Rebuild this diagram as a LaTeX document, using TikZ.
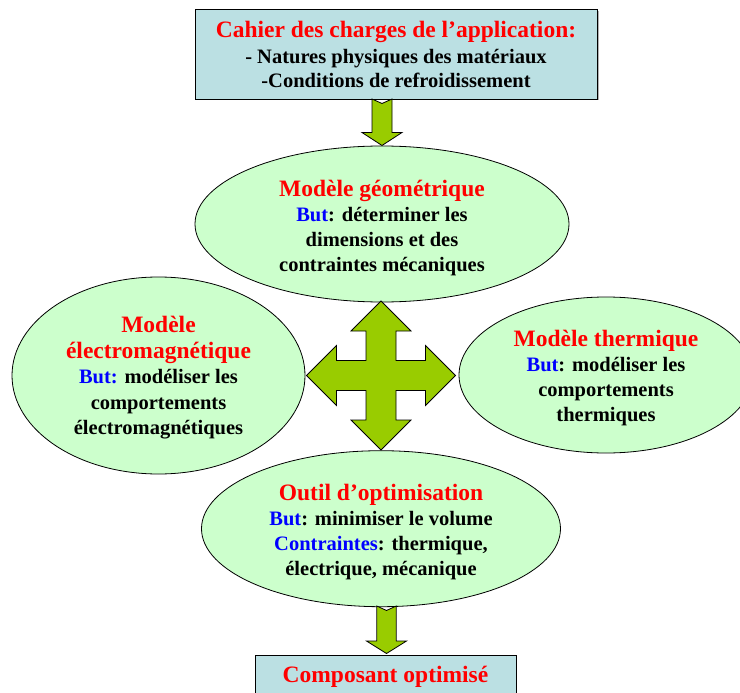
\documentclass[tikz,border=0pt]{standalone}
\usepackage{fontspec}
\setmainfont{Liberation Serif}
\usetikzlibrary{shapes.geometric}
\definecolor{boxblue}{HTML}{BBE0E3}
\definecolor{ellgreen}{HTML}{CCFFCC}
\definecolor{arrgreen}{HTML}{99CC00}
\definecolor{tred}{HTML}{FF0000}
\definecolor{tblue}{HTML}{0000FF}
\newcommand{\bodyfnt}{\bfseries\fontsize{20.5}{25}\selectfont}
\newcommand{\redtitle}[1]{{\color{tred}\fontsize{23.5}{25}\selectfont #1}}
\newcommand{\bluelbl}[1]{\textcolor{tblue}{#1}}
\begin{document}
\begin{tikzpicture}[x=1pt,y=-1pt,
  ell/.style={ellipse, draw=black, line width=0.8pt, fill=ellgreen, inner sep=0pt},
  elltext/.style={inner sep=0pt, align=center, font=\bodyfnt},
  specbox/.style={rectangle, draw=black, line width=0.8pt, fill=boxblue, inner sep=0pt, align=center, font=\bodyfnt},
  blockarrow/.style={draw=black, line width=0.8pt, fill=arrgreen, line join=miter}]
\useasboundingbox (0,0) rectangle (740,693);
\clip (0,0) rectangle (740,693);
% top box with shadow
\fill[gray!60] (197,11.5) rectangle (598.5,100.5);
\node[specbox, minimum width=402pt, minimum height=89.5pt] (cahier) at (396,54.25)
  {\redtitle{Cahier des charges de l’application:}\\[1.5pt]- Natures physiques des matériaux\\[-1.5pt]-Conditions de refroidissement};
% ellipses
\node[ell, minimum width=374pt, minimum height=156pt] (geo) at (382,224) {};
\node[elltext] (geotxt) at ([yshift=-4pt]geo.center)
  {\redtitle{Modèle géométrique}\\\bluelbl{But}: déterminer les\\dimensions et des\\contraintes mécaniques};
\node[ell, minimum width=293pt, minimum height=197pt] (elec) at (158.5,375.5) {};
\node[elltext] (electxt) at ([yshift=-2.5pt]elec.center)
  {\redtitle{Modèle}\\[0.5pt]\redtitle{électromagnétique}\\[0.5pt]\bluelbl{But:} modéliser les\\[0.5pt]comportements\\[0.5pt]électromagnétiques};
\node[ell, minimum width=294pt, minimum height=156pt] (therm) at (606,375) {};
\node[elltext] (thermtxt) at ([yshift=-3pt]therm.center)
  {\redtitle{Modèle thermique}\\\bluelbl{But}: modéliser les\\comportements\\thermiques};
\node[ell, minimum width=359pt, minimum height=156pt] (optim) at (381,528.7) {};
\node[elltext] (optimtxt) at ([yshift=-3.5pt]optim.center)
  {\redtitle{Outil d’optimisation}\\\bluelbl{But}: minimiser le volume\\\bluelbl{Contraintes}: thermique,\\électrique, mécanique};
% bottom box
\node[specbox, minimum width=261pt, minimum height=44pt] (compo) at (385.5,677)
  {\redtitle{Composant optimisé}};
% top notched arrow: cahier -> geo
\draw[blockarrow] (372,99) -- (382,103.5) -- (392,99) -- (392,132.5) -- (402,132.5)
  -- (382,145.5) -- (362,132.5) -- (372,132.5) -- cycle;
% bottom notched arrow: optim -> compo
\draw[blockarrow] (376.8,606) -- (386.5,610.5) -- (396.2,606) -- (396.2,641) -- (406.5,641)
  -- (386.5,653.5) -- (366.5,641) -- (376.8,641) -- cycle;
% four-way arrow between the four ellipses
\begin{scope}[shift={(381,375.5)}]
\draw[blockarrow] (0,-74.5) -- (30,-44.5) -- (15,-44.5) -- (15,-15) -- (44.5,-15) -- (44.5,-30)
  -- (74.5,0) -- (44.5,30) -- (44.5,15) -- (15,15) -- (15,44.5) -- (30,44.5) -- (0,74.5)
  -- (-30,44.5) -- (-15,44.5) -- (-15,15) -- (-44.5,15) -- (-44.5,30) -- (-74.5,0)
  -- (-44.5,-30) -- (-44.5,-15) -- (-15,-15) -- (-15,-44.5) -- (-30,-44.5) -- cycle;
\end{scope}
\end{tikzpicture}
\end{document}
